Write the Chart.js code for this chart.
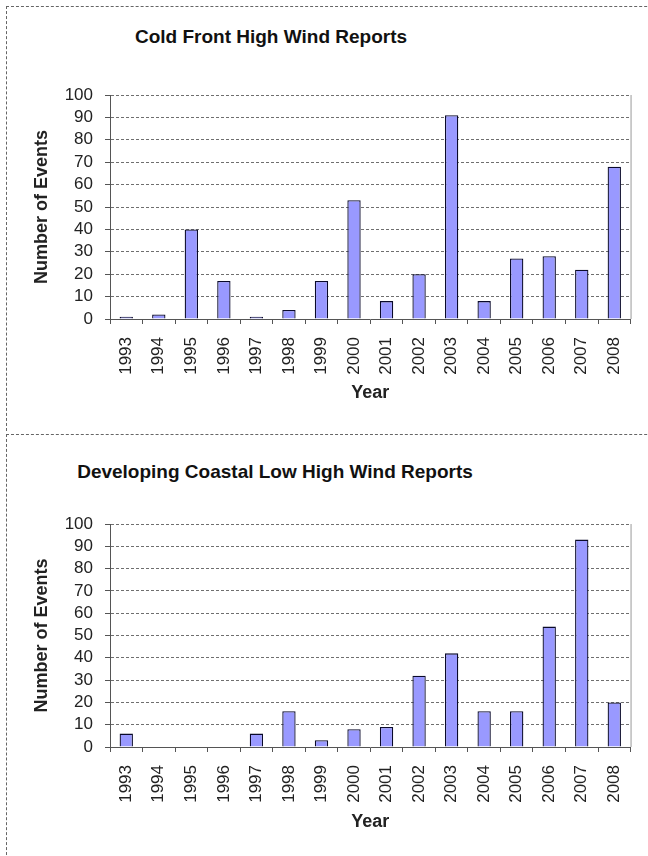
<!DOCTYPE html>
<html>
<head>
<meta charset="utf-8">
<script src="https://cdn.jsdelivr.net/npm/chart.js@4"></script>
<style>
  body { margin: 0; background: #fff; }
  #page { position: relative; width: 648px; height: 856px; overflow: hidden; font-family: "Liberation Sans", Arial, sans-serif; }
  .panel { position: absolute; left: 6px; width: 700px; border-top: 1px dashed #666; border-left: 1px dashed #666; }
  .title { position: absolute; left: 0; text-align: center; font-weight: bold; font-size: 19px; line-height: 22px; color: #111; }
  canvas { position: absolute; left: 0; }
</style>
</head>
<body>
<div id="page">
  <div class="panel" style="top:6px;height:424px;"></div>
  <div class="panel" style="top:434px;height:430px;"></div>
  <div class="title" style="top:26px;width:542px;">Cold Front High Wind Reports</div>
  <div class="title" style="top:461px;width:550px;">Developing Coastal Low High Wind Reports</div>
  <canvas id="chart1" width="648" height="430" style="top:0px;"></canvas>
  <canvas id="chart2" width="648" height="426" style="top:430px;"></canvas>
</div>
<script>
const years = ["1993", "1994", "1995", "1996", "1997", "1998", "1999", "2000",
               "2001", "2002", "2003", "2004", "2005", "2006", "2007", "2008"];

const coldFront = [1, 2, 40, 17, 1, 4, 17, 53, 8, 20, 91, 8, 27, 28, 22, 68];

const coastalLow = [6, 0, 0, 0, 6, 16, 3, 8, 9, 32, 42, 16, 16, 54, 93, 20];

const yTitle = "Number of Events";
const xTitle = "Year";

const fontFam = '"Liberation Sans", Arial, sans-serif';

// thin grey line on the right edge of the plot
const rightEdge = {
  id: "rightEdge",
  afterDraw(chart) {
    const a = chart.chartArea;
    const c = chart.ctx;
    c.save();
    c.strokeStyle = "#999";
    c.lineWidth = 1;
    c.beginPath();
    c.moveTo(a.right + 0.5, a.top);
    c.lineTo(a.right + 0.5, a.bottom);
    c.stroke();
    c.restore();
  }
};

function makeChart(id, values, padTop, xHeight, yearPad) {
  const ctx = document.getElementById(id).getContext("2d");
  return new Chart(ctx, {
    type: "bar",
    data: {
      labels: years,
      datasets: [{
        data: values,
        backgroundColor: "#9999ff",
        borderColor: "#0a0a2a",
        borderWidth: 1.3,
        borderSkipped: "start",
        categoryPercentage: 1,
        barPercentage: 0.41
      }]
    },
    options: {
      responsive: false,
      animation: false,
      layout: { padding: { top: padTop, right: 10, left: 0, bottom: 0 } },
      plugins: { legend: { display: false }, tooltip: { enabled: false } },
      scales: {
        x: {
          grid: { drawOnChartArea: false, drawTicks: true, tickLength: 5, tickColor: "#555", offset: true },
          border: { color: "#555", width: 1 },
          ticks: {
            autoSkip: false,
            minRotation: 90, maxRotation: 90, padding: 13,
            color: "#222", font: { family: fontFam, size: 17 }
          },
          title: {
            display: true, text: xTitle, color: "#222",
            font: { family: fontFam, size: 18, weight: "bold" },
            padding: { top: 0, bottom: yearPad }
          },
          afterFit(scale) { scale.height = xHeight; }
        },
        y: {
          min: 0, max: 100,
          ticks: { autoSkip: false, stepSize: 10, padding: 12, color: "#222", font: { family: fontFam, size: 17 } },
          grid: { color: "#6f6f6f", lineWidth: 1, tickLength: 5, tickColor: "#555" },
          border: { color: "#555", width: 1, dash: [3, 2] },
          title: {
            display: true, text: yTitle, color: "#222",
            font: { family: fontFam, size: 18, weight: "bold" },
            padding: { top: 31, bottom: 0 }
          },
          afterFit(scale) { scale.width = 110; }
        }
      }
    },
    plugins: [rightEdge]
  });
}

makeChart("chart1", coldFront, 95, 111, 26);
makeChart("chart2", coastalLow, 94, 109, 23);
</script>
</body>
</html>
